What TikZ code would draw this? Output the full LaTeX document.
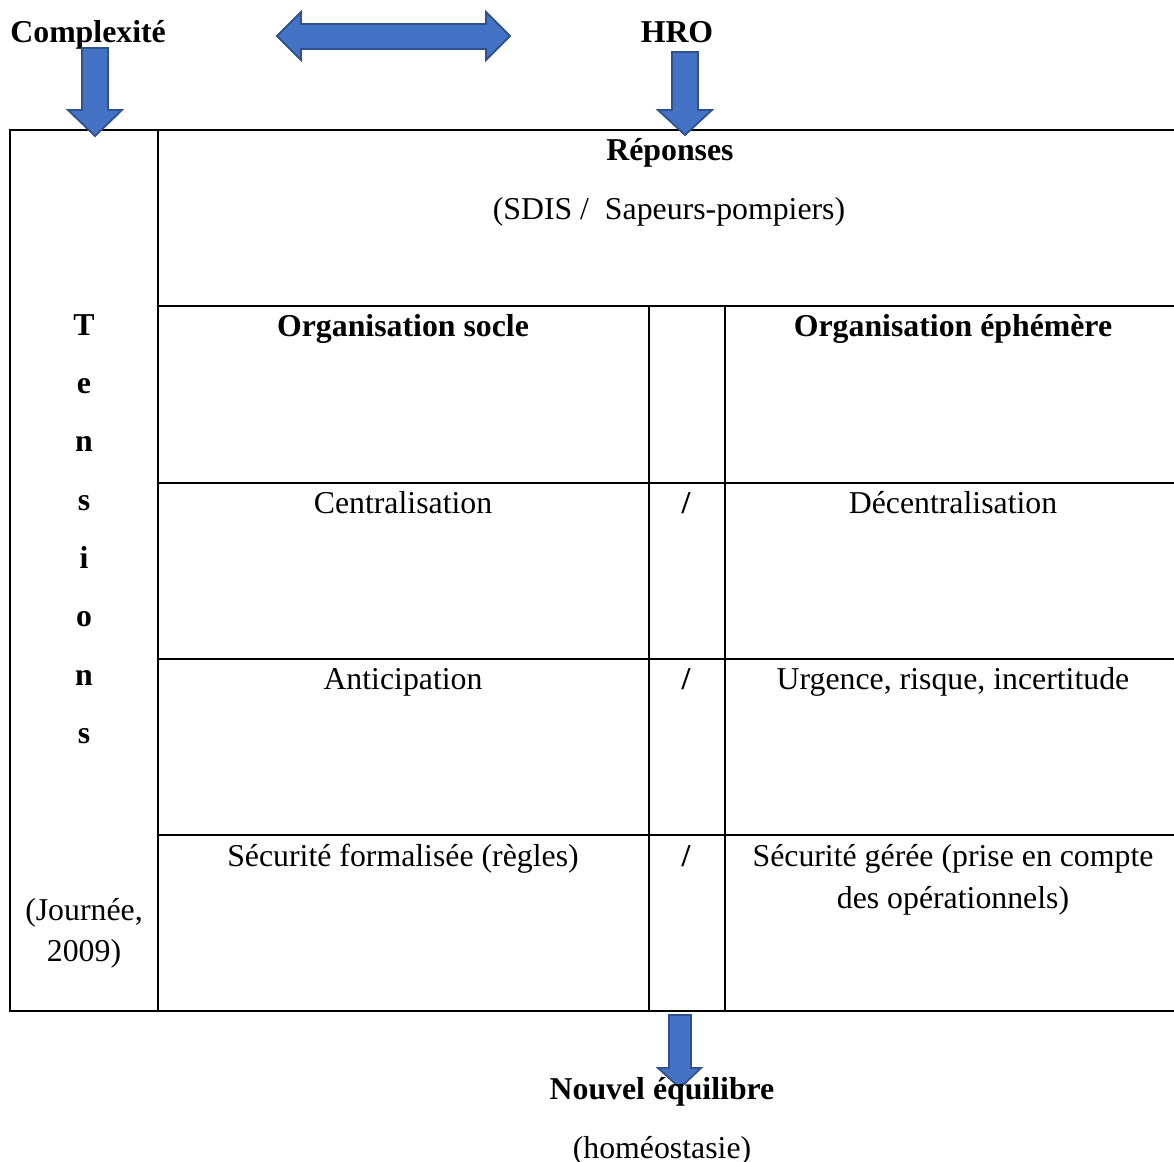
\documentclass[tikz,border=0pt]{standalone}
\usepackage{fontspec}
\setmainfont{Liberation Serif}
\definecolor{arrowfill}{HTML}{4472C4}
\definecolor{arrowline}{HTML}{2F528F}
\begin{document}
\begin{tikzpicture}[x=0.5pt,y=-0.5pt,
  txt/.style={font=\fontsize{15.9}{19}\selectfont, inner sep=0pt, anchor=base},
  btxt/.style={inner sep=0pt, anchor=base, font=\fontsize{15.9}{19}\selectfont\bfseries},
  grid/.style={line width=1pt, black},
  blockarrow/.style={fill=arrowfill, draw=arrowline, line width=0.9pt, line join=miter}]
\useasboundingbox (0,0) rectangle (1174,1162);
% table lines
\draw[grid] (1174,130) -- (10,130) -- (10,1011) -- (1174,1011);
\draw[grid] (158,130) -- (158,1011);
\draw[grid] (158,306) -- (1174,306);
\draw[grid] (158,483) -- (1174,483);
\draw[grid] (158,659) -- (1174,659);
\draw[grid] (158,835) -- (1174,835);
\draw[grid] (649,306) -- (649,1011);
\draw[grid] (725,306) -- (725,1011);
% top labels
\node[btxt, anchor=base west] (cx) at (10,42) {Complexité};
\node[btxt] (hro) at (677,42) {HRO};
% arrows
\draw[blockarrow] (277,36) -- (301,12) -- (301,24) -- (486,24) -- (486,12) -- (510,36) -- (486,60) -- (486,49) -- (301,49) -- (301,60) -- cycle;
\draw[blockarrow] (82,48) -- (108,48) -- (108,110) -- (122,110) -- (95,136) -- (68,110) -- (82,110) -- cycle;
\draw[blockarrow] (672,52) -- (698,52) -- (698,110) -- (712,110) -- (685,135) -- (658,110) -- (672,110) -- cycle;
% header
\node[btxt] (rep) at (670,160) {Réponses};
\node[txt] (sdis) at (669,219) {(SDIS /\ \ Sapeurs-pompiers)};
% Tensions
\foreach \l [count=\i from 0] in {T,e,n,s,i,o,n,s} {
  \node[btxt] (t\i) at (84,{335+58.35*\i}) {\l};
}
\node[txt] (j1) at (84,920) {(Journée,};
\node[txt] (j2) at (84,961) {2009)};
% rows
\node[btxt] (os) at (403,336) {Organisation socle};
\node[btxt] (oe) at (953,336) {Organisation éphémère};
\node[txt] (c1) at (403,513) {Centralisation};
\node[btxt] (s1) at (686,513) {/};
\node[txt] (d1) at (953,513) {Décentralisation};
\node[txt] (c2) at (403,689) {Anticipation};
\node[btxt] (s2) at (686,689) {/};
\node[txt] (d2) at (953,689) {Urgence, risque, incertitude};
\node[txt] (c3) at (403,866) {Sécurité formalisée (règles)};
\node[btxt] (s3) at (686,866) {/};
\node[txt] (d3) at (953,866) {Sécurité gérée (prise en compte};
\node[txt] (d3b) at (953,908) {des opérationnels)};
% bottom
\draw[blockarrow] (669,1015) -- (691,1015) -- (691,1068) -- (701,1068) -- (680,1088) -- (658,1068) -- (669,1068) -- cycle;
\node[btxt] (ne) at (662,1099) {Nouvel équilibre};
\node[txt] (ho) at (662,1158) {(homéostasie)};
\end{tikzpicture}
\end{document}
